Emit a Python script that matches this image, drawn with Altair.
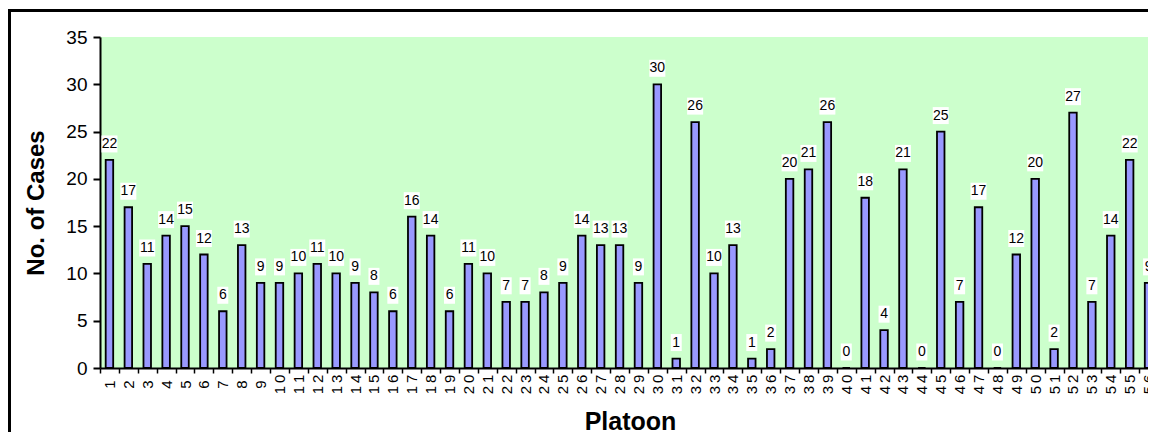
import altair as alt
import pandas as pd

platoons = [str(i) for i in range(1, 57)]
cases = [22, 17, 11, 14, 15, 12, 6, 13, 9, 9, 10, 11, 10, 9, 8, 6, 16, 14, 6, 11,
         10, 7, 7, 8, 9, 14, 13, 13, 9, 30, 1, 26, 10, 13, 1, 2, 20, 21, 26, 0,
         18, 4, 21, 0, 25, 7, 17, 0, 12, 20, 2, 27, 7, 14, 22, 9]
y_ticks = [0, 5, 10, 15, 20, 25, 30, 35]

df = pd.DataFrame({"platoon": platoons, "cases": cases})

FONT = "Liberation Sans"
W, H = 1048, 331

x_enc = alt.X(
    "platoon:N",
    sort=platoons,
    scale=alt.Scale(range=[0, 1058], paddingInner=0, paddingOuter=0),
    axis=alt.Axis(
        title="Platoon", titleFont=FONT, titleFontSize=25, titleFontWeight="bold",
        titleColor="black", titleY=61, titleX=530, titleBaseline="alphabetic",
        titleAlign="center",
        labelAngle=270, labelAlign="center", labelBaseline="middle",
        labelFont=FONT, labelFontSize=15, labelColor="black", labelPadding=11,
        labelExpr="join(split(datum.label, ''), '\u2009')",
        tickBand="extent", tickSize=5, tickWidth=1.5, tickColor="black",
        domainColor="black", domainWidth=2, grid=False, labelOverlap=False,
    ),
)
y_enc = alt.Y(
    "cases:Q",
    scale=alt.Scale(domain=[0, 35], nice=False),
    axis=alt.Axis(
        values=y_ticks, title="No. of Cases", titleFont=FONT, titleFontSize=24,
        titleFontWeight="bold", titleColor="black", titleAngle=270,
        titleX=-64, titleBaseline="middle", titleAlign="center",
        labelFont=FONT, labelFontSize=19, labelColor="black", labelPadding=6,
        tickSize=7, tickWidth=2, tickColor="black",
        domainColor="black", domainWidth=2, grid=False,
    ),
)

base = alt.Chart(df)

bars = base.mark_bar(width=7.5, color="#9999FF", stroke="black", strokeWidth=1.8).encode(
    x=x_enc, y=y_enc
)

box2 = "M-0.8,-0.85L0.8,-0.85L0.8,0.85L-0.8,0.85Z"
box1 = "M-0.55,-0.85L0.55,-0.85L0.55,0.85L-0.55,0.85Z"
boxes = base.mark_point(filled=True, fill="white", opacity=1, strokeWidth=0, size=400, yOffset=-16).encode(
    x=alt.X("platoon:N", sort=platoons),
    y="cases:Q",
    shape=alt.condition("datum.cases >= 10", alt.value(box2), alt.value(box1)),
)

labels = base.mark_text(font=FONT, fontSize=14, color="black", baseline="alphabetic", yOffset=-12).encode(
    x=alt.X("platoon:N", sort=platoons),
    y="cases:Q",
    text="cases:Q",
)

one = pd.DataFrame({"a": [0]})
frame_top = alt.Chart(one).mark_rule(color="black", strokeWidth=3).encode(
    x=alt.value(-91), x2=alt.value(1100), y=alt.value(-26.5)
)
frame_left = alt.Chart(one).mark_rule(color="black", strokeWidth=3).encode(
    x=alt.value(-90.5), y=alt.value(-28), y2=alt.value(450)
)

chart = (
    alt.layer(bars, boxes, labels, frame_top, frame_left)
    .properties(
        width=W, height=H,
        background="white",
        autosize=alt.AutoSizeParams(type="none"),
        padding={"left": 92, "top": 29, "right": 0, "bottom": 64},
    )
    .configure_view(fill="#CCFFCC", strokeWidth=0)
)

chart.save("out.html", embed_options={"renderer": "svg", "actions": False})
